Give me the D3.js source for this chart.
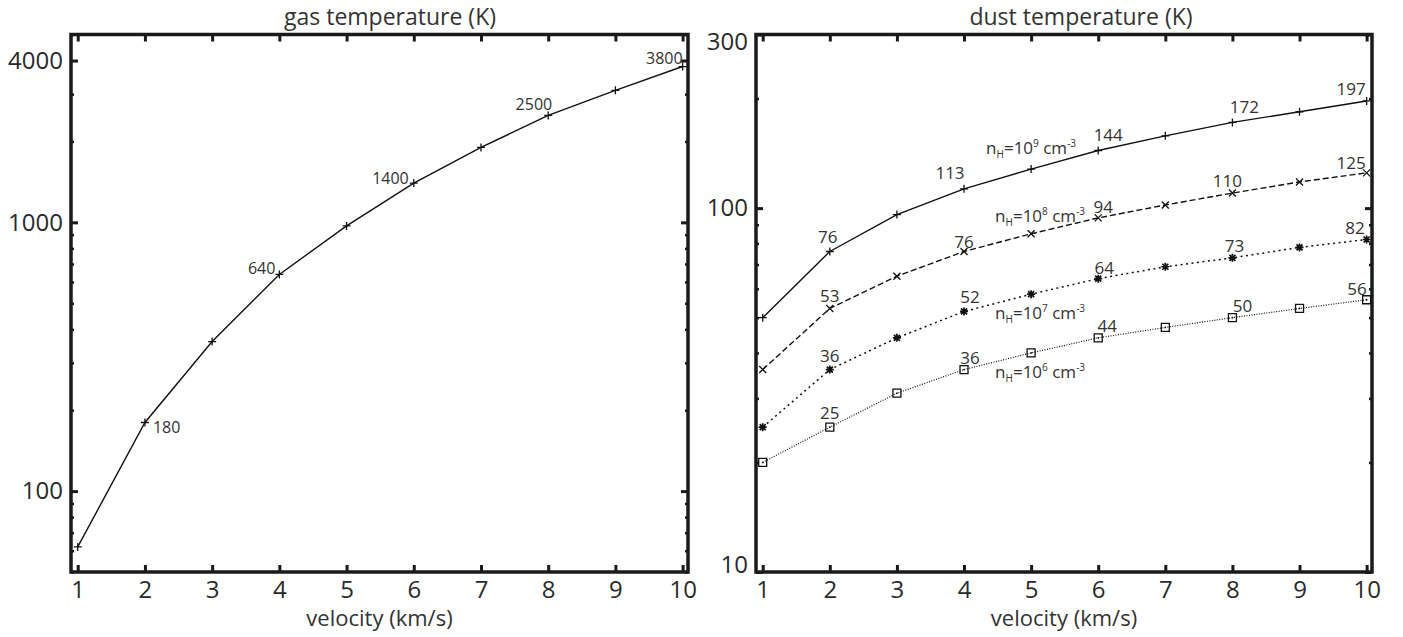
<!DOCTYPE html>
<html>
<head>
<meta charset="utf-8">
<script src="https://cdn.jsdelivr.net/npm/d3@7"></script>
<style>
  body { margin: 0; background: #fff; }
  text { font-family: "Open Sans", sans-serif; fill: #333; }
</style>
</head>
<body>
<svg id="chart" width="1403" height="637"></svg>
<script>
// data
var velocity = [1, 2, 3, 4, 5, 6, 7, 8, 9, 10];
var gasTemp = [62, 180, 360, 640, 970, 1400, 1900, 2500, 3100, 3800];
var dust1e9 = [50, 76, 96, 113, 128, 144, 158, 172, 184, 197];
var dust1e8 = [36, 53, 65, 76, 85, 94, 102, 110, 118, 125];
var dust1e7 = [25, 36, 44, 52, 58, 64, 69, 73, 78, 82];
var dust1e6 = [20, 25, 31, 36, 40, 44, 47, 50, 53, 56];
var densityExp = ['9', '8', '7', '6'];
var labelledIdx = [1, 3, 5, 7, 9];
var gasTicks = [100, 1000, 4000];
var dustTicks = [10, 100, 300];

var svg = d3.select('#chart');
var top0 = 34.5, bottom0 = 572;

var xGas = d3.scaleLinear().domain([0.9, 10.08]).range([71, 688]);
var xDust = d3.scaleLinear().domain([0.9, 10.08]).range([756, 1372]);
var yGas = d3.scaleLog().domain([50, 5000]).range([bottom0, top0]);
var yDust = d3.scaleLog().domain([10, 300]).range([bottom0, top0]);

function markerPath(type) {
    if (type === 'plus') return 'M-4,0H4M0,-4V4';
    if (type === 'cross') return 'M-3.5,-3.5L3.5,3.5M-3.5,3.5L3.5,-3.5';
    if (type === 'star') return 'M-4,0H4M0,-4V4M-3,-3L3,3M-3,3L3,-3';
    return 'M-4,-4H4V4H-4Z';
}

function drawFrame(x, y, majors) {
    var g = svg.append('g');
    var x0 = x.range()[0], x1 = x.range()[1];
    var minors = y.ticks().filter(function (d) { return majors.indexOf(d) < 0; });

    function styleAxis(sel, w) {
        sel.select('.domain').remove();
        sel.selectAll('line').attr('stroke', '#1a1a1a').attr('stroke-width', w);
        sel.attr('font-family', '"Open Sans", sans-serif').attr('font-size', 24);
        sel.selectAll('text').style('fill', '#2a2a2a');
    }

    g.append('g').attr('transform', 'translate(0,' + bottom0 + ')')
        .call(d3.axisBottom(x).tickValues(velocity).tickSize(-7).tickPadding(9))
        .call(styleAxis, 3);
    g.append('g').attr('transform', 'translate(0,' + top0 + ')')
        .call(d3.axisTop(x).tickValues(velocity).tickSize(-7).tickFormat(''))
        .call(styleAxis, 3);

    g.append('g').attr('transform', 'translate(' + x0 + ',0)')
        .call(d3.axisLeft(y).tickValues(majors).tickSize(-7).tickPadding(8).tickFormat(d3.format('d')))
        .call(styleAxis, 3)
        .selectAll('text')
        .attr('transform', function (d) {
            if (d === y.domain()[1]) return 'translate(0,7)';
            if (d === y.domain()[0]) return 'translate(0,-7)';
            return null;
        });
    g.append('g').attr('transform', 'translate(' + x0 + ',0)')
        .call(d3.axisLeft(y).tickValues(minors).tickSize(-3).tickFormat(''))
        .call(styleAxis, 2.5);
    g.append('g').attr('transform', 'translate(' + x1 + ',0)')
        .call(d3.axisRight(y).tickValues(majors).tickSize(-7).tickFormat(''))
        .call(styleAxis, 3);
    g.append('g').attr('transform', 'translate(' + x1 + ',0)')
        .call(d3.axisRight(y).tickValues(minors).tickSize(-3).tickFormat(''))
        .call(styleAxis, 2.5);

    g.append('rect')
        .attr('x', x0).attr('y', top0)
        .attr('width', x1 - x0).attr('height', bottom0 - top0)
        .attr('fill', 'none').attr('stroke', '#1a1a1a').attr('stroke-width', 3.5);

    svg.append('text')
        .attr('x', (x0 + x1) / 2).attr('y', 626)
        .attr('text-anchor', 'middle').attr('font-size', 22)
        .text('velocity (km/s)');
}

function drawSeries(x, y, values, opts) {
    var pts = values.map(function (t, i) { return { v: velocity[i], t: t, i: i }; });
    var line = d3.line().x(function (d) { return x(d.v); }).y(function (d) { return y(d.t); });
    svg.append('path')
        .datum(pts)
        .attr('d', line)
        .attr('fill', 'none')
        .attr('stroke', '#111')
        .attr('stroke-width', opts.width)
        .attr('stroke-dasharray', opts.dash);

    var m = svg.append('g').selectAll('g')
        .data(pts)
        .enter().append('g')
        .attr('transform', function (d) { return 'translate(' + x(d.v) + ',' + y(d.t) + ')'; });
    m.append('path')
        .attr('d', markerPath(opts.marker))
        .attr('fill', 'none')
        .attr('stroke', '#111')
        .attr('stroke-width', opts.marker === 'star' ? 1.7 : 1.3);
    if (opts.marker === 'square') {
        m.append('circle').attr('r', 0.9).attr('fill', '#111');
    }

    svg.append('g').selectAll('text')
        .data(pts.filter(function (d) { return labelledIdx.indexOf(d.i) >= 0; }))
        .enter().append('text')
        .attr('font-size', opts.fontSize)
        .attr('text-anchor', function (d) { return opts.nudge[d.i][0]; })
        .attr('x', function (d) { return x(d.v) + opts.nudge[d.i][1]; })
        .attr('y', function (d) { return y(d.t) + opts.nudge[d.i][2]; })
        .text(function (d) { return d.t; });
}

// left: gas temperature
drawFrame(xGas, yGas, gasTicks);
drawSeries(xGas, yGas, gasTemp, {
    width: 1.4, dash: null, marker: 'plus', fontSize: 16,
    nudge: { 1: ['start', 8, 11], 3: ['end', -4, 0], 5: ['end', -5, 1], 7: ['end', 4, -5], 9: ['end', 0, -3] }
});
svg.append('text').attr('x', 390).attr('y', 25).attr('text-anchor', 'middle')
    .attr('font-size', 23).text('gas temperature (K)');

// right: dust temperature
drawFrame(xDust, yDust, dustTicks);
var dustSeries = [
    { values: dust1e9, width: 1.4, dash: null, marker: 'plus',
      nudge: { 1: ['middle', -2, -8], 3: ['middle', -14, -10], 5: ['middle', 10, -9], 7: ['middle', 12, -9], 9: ['end', -1, -6] },
      lab: [-45, -15] },
    { values: dust1e8, width: 1.4, dash: '6,3', marker: 'cross',
      nudge: { 1: ['middle', 0, -6], 3: ['middle', 0, -3], 5: ['middle', 5, -5], 7: ['middle', -5, -6], 9: ['end', -1, -4] },
      lab: [-36, -12] },
    { values: dust1e7, width: 1.5, dash: '2,3.5', marker: 'star',
      nudge: { 1: ['middle', 0, -8], 3: ['middle', 6, -8], 5: ['middle', 6, -5], 7: ['middle', 2, -6], 9: ['end', -2, -5] },
      lab: [-36, 25] },
    { values: dust1e6, width: 1.2, dash: '1,1.5', marker: 'square',
      nudge: { 1: ['middle', 0, -8], 3: ['middle', 6, -6], 5: ['middle', 9, -6], 7: ['middle', 10, -6], 9: ['end', 0, -5] },
      lab: [-36, 25] }
];

dustSeries.forEach(function (s, k) {
    drawSeries(xDust, yDust, s.values, {
        width: s.width, dash: s.dash, marker: s.marker, fontSize: 17, nudge: s.nudge
    });
    // density label, placed near the v = 5 point
    var t = svg.append('text')
        .attr('x', xDust(velocity[4]) + s.lab[0])
        .attr('y', yDust(s.values[4]) + s.lab[1])
        .attr('font-size', 17);
    t.append('tspan').text('n');
    t.append('tspan').attr('font-size', 10).attr('dy', 4).text('H');
    t.append('tspan').attr('dy', -4).text('=10');
    t.append('tspan').attr('font-size', 10).attr('dy', -7).text(densityExp[k]);
    t.append('tspan').attr('dy', 7).text(' cm');
    t.append('tspan').attr('font-size', 10).attr('dy', -7).text('-3');
});
svg.append('text').attr('x', 1081).attr('y', 25).attr('text-anchor', 'middle')
    .attr('font-size', 23).text('dust temperature (K)');
</script>
</body>
</html>
